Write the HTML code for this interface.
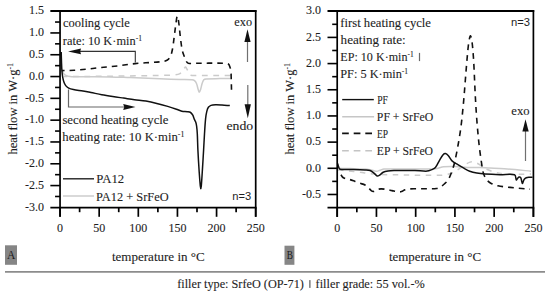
<!DOCTYPE html>
<html><head><meta charset="utf-8"><style>
html,body{margin:0;padding:0;background:#fff;width:550px;height:296px;overflow:hidden}
svg{display:block}
text{stroke:#1e1e1e;stroke-width:0.1px}
text[font-family*="Sans"]{stroke:none}

</style></head><body>
<svg width="550" height="296" viewBox="0 0 550 296">
<rect width="550" height="296" fill="#fff"/>
<path d="M61.40,69.50 C61.80,70.40 62.11,71.36 62.60,72.20 C63.04,72.96 63.56,73.72 64.20,74.30 C64.89,74.92 65.73,75.46 66.60,75.80 C67.67,76.22 68.85,76.46 70.00,76.60 C71.65,76.80 73.33,76.79 75.00,76.80 C86.67,76.89 98.34,76.73 110.00,76.90 C116.67,77.00 123.33,77.36 130.00,77.60 C140.00,77.96 150.00,78.32 160.00,78.70 C166.67,78.95 173.33,79.27 180.00,79.50 C184.00,79.64 188.03,79.50 192.00,79.80 C192.87,79.87 193.86,80.07 194.50,80.60 C195.36,81.31 196.05,82.43 196.50,83.50 C197.29,85.40 197.56,87.52 198.20,89.50 C198.50,90.42 198.91,92.20 199.30,92.20 C199.71,92.20 200.29,90.45 200.60,89.50 C201.26,87.45 201.52,85.25 202.20,83.20 C202.59,82.02 203.02,80.68 203.80,79.80 C204.29,79.24 205.22,78.96 206.00,78.90 C210.62,78.56 215.33,78.68 220.00,78.60 C223.47,78.54 226.93,78.53 230.40,78.50" fill="none" stroke="#cbcbcb" stroke-width="1.5" stroke-linejoin="round"/>
<path d="M230.50,75.50 C220.33,75.47 210.17,75.48 200.00,75.40 C196.83,75.38 193.24,76.01 190.50,75.20 C189.41,74.88 189.13,73.09 188.50,72.00 C187.90,70.95 187.41,69.84 186.80,68.80 C186.45,68.20 186.05,67.13 185.60,67.10 C185.12,67.07 184.48,68.05 184.00,68.60 C183.28,69.42 182.68,70.35 182.00,71.20 C181.35,72.01 180.88,73.14 180.00,73.60 C178.55,74.37 176.71,74.75 175.00,74.90 C170.04,75.35 165.00,75.29 160.00,75.40 C150.00,75.62 140.00,75.74 130.00,75.90 C123.33,76.01 116.67,76.12 110.00,76.20 C100.00,76.32 90.00,76.41 80.00,76.50 C74.67,76.55 69.33,76.57 64.00,76.60" fill="none" stroke="#cbcbcb" stroke-width="1.5" stroke-linejoin="round" stroke-dasharray="5.8,5.6"/>
<path d="M61.20,52.00 C61.30,55.33 61.37,58.67 61.50,62.00 C61.61,64.83 61.68,67.67 61.90,70.50 C62.08,72.74 62.32,74.99 62.70,77.20 C62.98,78.82 63.35,80.46 63.90,82.00 C64.35,83.26 64.89,84.57 65.70,85.60 C66.49,86.60 67.56,87.52 68.70,88.10 C70.13,88.82 71.80,89.18 73.40,89.50 C76.57,90.14 79.81,90.45 83.00,91.00 C85.64,91.45 88.27,91.98 90.90,92.50 C94.54,93.22 98.15,94.03 101.80,94.70 C105.42,95.36 109.06,95.93 112.70,96.50 C116.33,97.07 119.97,97.57 123.60,98.10 C127.23,98.63 130.86,99.21 134.50,99.70 C138.29,100.21 142.13,100.47 145.90,101.10 C149.56,101.71 153.19,102.52 156.80,103.40 C160.46,104.29 164.09,105.33 167.70,106.40 C170.62,107.26 173.51,108.22 176.40,109.20 C178.25,109.82 180.01,110.77 181.90,111.20 C183.65,111.60 185.52,111.43 187.30,111.70 C188.42,111.87 189.69,111.92 190.60,112.50 C191.53,113.09 192.25,114.20 192.80,115.20 C193.51,116.50 193.81,118.02 194.40,119.40 C194.78,120.29 195.40,121.09 195.70,122.00 C196.13,123.29 196.42,124.65 196.60,126.00 C196.95,128.58 197.16,131.19 197.30,133.80 C197.59,139.19 197.63,144.60 197.90,150.00 C198.26,157.34 198.71,164.67 199.20,172.00 C199.51,176.67 199.85,181.34 200.30,186.00 C200.39,186.91 200.63,188.70 200.80,188.70 C200.97,188.70 201.22,186.91 201.30,186.00 C201.76,180.68 202.06,175.33 202.40,170.00 C202.83,163.33 203.21,156.67 203.60,150.00 C203.91,144.60 204.16,139.20 204.50,133.80 C204.82,128.73 205.08,123.65 205.60,118.60 C205.85,116.18 206.22,113.75 206.80,111.40 C207.15,109.98 207.59,108.45 208.40,107.30 C208.99,106.45 210.02,105.75 211.00,105.40 C212.38,104.91 213.99,104.85 215.50,104.80 C217.66,104.72 219.84,104.88 222.00,105.00 C224.60,105.15 227.20,105.40 229.80,105.60" fill="none" stroke="#111" stroke-width="1.5" stroke-linejoin="round"/>
<path d="M231.50,89.80 C231.40,85.87 231.33,81.93 231.20,78.00 C231.13,75.67 231.16,73.31 230.90,71.00 C230.76,69.71 230.43,68.42 230.00,67.20 C229.63,66.15 229.28,64.87 228.50,64.20 C227.78,63.57 226.54,63.34 225.50,63.30 C217.04,63.00 208.50,63.22 200.00,63.20 C196.07,63.19 191.91,63.74 188.20,63.20 C187.31,63.07 186.68,61.99 186.20,61.20 C185.48,59.99 185.09,58.55 184.60,57.20 C183.79,54.95 182.80,52.73 182.30,50.40 C181.40,46.16 180.95,41.81 180.40,37.50 C179.78,32.68 179.49,27.81 178.80,23.00 C178.46,20.64 177.77,16.00 177.30,16.00 C176.83,16.00 176.35,20.65 176.00,23.00 C175.35,27.32 174.89,31.67 174.30,36.00 C173.69,40.50 173.27,45.05 172.40,49.50 C171.90,52.05 171.34,54.74 170.20,57.00 C169.54,58.31 168.27,59.49 167.00,60.20 C165.54,61.02 163.72,61.42 162.00,61.60 C153.05,62.55 143.98,62.73 135.00,63.60 C129.48,64.13 124.01,65.17 118.50,65.80 C111.25,66.63 103.96,67.24 96.70,68.00 C93.13,68.37 89.57,68.84 86.00,69.20 C82.00,69.60 78.01,70.07 74.00,70.30 C70.01,70.53 66.00,70.50 62.00,70.60" fill="none" stroke="#111" stroke-width="1.6" stroke-linejoin="round" stroke-dasharray="5.6,5.0"/>
<path d="M338.00,168.30 C342.00,168.40 346.00,168.48 350.00,168.60 C355.00,168.75 360.01,168.80 365.00,169.10 C366.68,169.20 368.35,169.49 370.00,169.80 C371.35,170.05 372.66,170.51 374.00,170.80 C374.99,171.01 376.02,171.40 377.00,171.30 C378.02,171.20 378.98,170.52 380.00,170.20 C381.32,169.79 382.63,169.18 384.00,169.10 C389.29,168.78 394.67,169.03 400.00,169.00 C406.67,168.96 413.33,168.96 420.00,168.90 C425.13,168.86 430.31,169.15 435.40,168.70 C438.21,168.45 440.89,167.09 443.70,166.80 C447.59,166.39 451.57,166.50 455.50,166.60 C459.44,166.70 463.36,167.24 467.30,167.40 C471.53,167.57 475.77,167.47 480.00,167.60 C483.34,167.70 486.67,167.97 490.00,168.10 C493.33,168.23 496.67,168.20 500.00,168.40 C505.01,168.70 510.00,169.15 515.00,169.60 C520.34,170.08 525.67,170.67 531.00,171.20" fill="none" stroke="#cbcbcb" stroke-width="1.5" stroke-linejoin="round"/>
<path d="M338.00,170.00 C340.33,170.20 342.67,170.37 345.00,170.60 C350.00,171.10 355.01,171.58 360.00,172.20 C363.34,172.61 366.65,173.32 370.00,173.70 C373.32,174.08 376.66,174.37 380.00,174.50 C386.66,174.77 393.33,174.78 400.00,174.90 C406.67,175.02 413.33,175.13 420.00,175.20 C426.67,175.27 433.34,175.45 440.00,175.30 C442.01,175.25 444.02,174.96 446.00,174.60 C448.02,174.23 450.14,173.94 452.00,173.10 C454.87,171.81 457.51,169.91 460.20,168.20 C462.18,166.94 464.01,165.44 466.00,164.20 C467.28,163.41 468.60,162.56 470.00,162.10 C470.93,161.79 472.03,161.75 473.00,161.90 C474.36,162.11 475.74,162.60 477.00,163.20 C478.74,164.03 480.33,165.20 482.00,166.20 C484.00,167.40 485.90,168.80 488.00,169.80 C490.24,170.87 492.60,171.81 495.00,172.40 C498.26,173.21 501.65,173.66 505.00,174.00 C508.31,174.33 511.67,174.40 515.00,174.40 C520.33,174.40 525.67,174.13 531.00,174.00" fill="none" stroke="#cbcbcb" stroke-width="1.5" stroke-linejoin="round" stroke-dasharray="5.5,5.5"/>
<path d="M337.60,163.40 C337.93,164.53 338.15,165.72 338.60,166.80 C338.95,167.65 339.17,169.01 340.00,169.20 C342.97,169.88 346.67,169.31 350.00,169.40 C355.00,169.54 360.01,169.63 365.00,169.90 C366.71,169.99 368.55,169.91 370.10,170.50 C371.65,171.08 372.96,172.36 374.30,173.40 C375.32,174.19 376.13,175.74 377.20,176.00 C378.03,176.20 379.15,175.34 380.00,174.80 C381.15,174.07 381.99,172.78 383.20,172.20 C384.65,171.51 386.37,171.24 388.00,171.00 C389.97,170.71 392.00,170.64 394.00,170.60 C401.00,170.47 408.00,170.39 415.00,170.50 C419.04,170.56 423.12,171.31 427.10,171.10 C428.72,171.01 430.29,170.24 431.80,169.60 C433.06,169.07 434.55,168.62 435.40,167.60 C437.12,165.52 438.06,162.69 439.50,160.30 C440.63,158.42 441.69,156.40 443.10,154.80 C443.66,154.17 444.67,153.46 445.40,153.60 C446.44,153.80 447.58,154.89 448.40,155.80 C449.78,157.32 450.51,159.50 452.00,160.90 C453.68,162.47 455.91,163.47 457.90,164.70 C459.84,165.90 461.80,167.10 463.80,168.20 C465.73,169.26 467.65,170.43 469.70,171.20 C471.98,172.06 474.40,172.64 476.80,173.10 C479.50,173.61 482.26,173.91 485.00,174.10 C489.99,174.44 495.00,174.60 500.00,174.70 C504.86,174.80 510.67,173.42 514.60,174.70 C516.10,175.19 515.57,179.17 516.30,180.00 C516.60,180.34 517.18,178.74 517.70,178.20 C518.14,177.74 518.66,177.09 519.20,177.00 C519.66,176.92 520.44,177.26 520.70,177.70 C521.27,178.66 521.36,180.03 521.70,181.20 C521.93,182.00 522.13,183.51 522.40,183.60 C522.63,183.68 522.93,182.33 523.20,181.70 C523.56,180.86 523.76,179.90 524.30,179.20 C524.79,178.56 525.56,178.03 526.30,177.70 C527.06,177.36 527.96,177.27 528.80,177.20 C530.02,177.10 531.27,177.20 532.50,177.20" fill="none" stroke="#111" stroke-width="1.5" stroke-linejoin="round"/>
<path d="M340.90,174.80 C341.60,175.70 342.13,176.82 343.00,177.50 C343.83,178.15 344.96,178.49 346.00,178.80 C347.30,179.19 348.70,179.22 350.00,179.60 C351.70,180.09 353.34,180.79 355.00,181.40 C356.67,182.02 358.32,182.70 360.00,183.30 C361.66,183.90 363.47,184.19 365.00,185.00 C366.30,185.69 367.39,186.81 368.50,187.80 C369.55,188.74 370.38,190.00 371.50,190.80 C372.05,191.20 372.86,191.54 373.50,191.40 C374.70,191.14 375.77,190.01 377.00,189.60 C378.27,189.18 379.66,188.93 381.00,188.90 C382.66,188.86 384.35,189.14 386.00,189.40 C388.01,189.71 390.00,190.20 392.00,190.60 C394.00,191.00 395.99,191.59 398.00,191.80 C399.15,191.92 400.40,191.91 401.50,191.60 C402.73,191.25 403.77,190.23 405.00,189.80 C406.37,189.33 407.85,189.00 409.30,188.90 C412.48,188.67 415.70,188.82 418.90,188.80 C422.60,188.78 426.30,188.86 430.00,188.80 C432.17,188.76 434.40,188.90 436.50,188.50 C437.90,188.23 439.25,187.52 440.50,186.80 C441.85,186.02 443.14,185.06 444.30,184.00 C445.78,182.66 447.46,181.34 448.40,179.60 C450.39,175.94 451.76,171.81 453.10,167.80 C454.13,164.71 454.80,161.49 455.50,158.30 C456.40,154.22 457.18,150.11 457.90,146.00 C458.95,140.01 459.99,134.02 460.80,128.00 C461.69,121.35 462.33,114.67 463.00,108.00 C463.53,102.67 463.96,97.34 464.40,92.00 C464.79,87.34 465.13,82.67 465.50,78.00 C465.93,72.67 466.33,67.33 466.80,62.00 C467.27,56.66 467.68,51.32 468.30,46.00 C468.61,43.32 469.04,40.63 469.60,38.00 C469.77,37.20 470.21,35.62 470.50,35.70 C470.85,35.79 471.32,37.53 471.50,38.50 C472.02,41.30 472.32,44.16 472.60,47.00 C473.02,51.32 473.33,55.66 473.60,60.00 C473.93,65.33 474.15,70.67 474.40,76.00 C474.68,82.00 474.88,88.00 475.20,94.00 C475.61,101.67 476.05,109.34 476.60,117.00 C477.08,123.71 477.67,130.41 478.30,137.10 C478.67,141.07 479.11,145.04 479.60,149.00 C480.08,152.91 480.62,156.81 481.20,160.70 C481.75,164.41 482.17,168.16 483.00,171.80 C483.41,173.59 484.13,175.33 484.90,177.00 C485.39,178.07 485.99,179.15 486.80,180.00 C487.96,181.22 489.31,182.42 490.80,183.20 C493.01,184.35 495.45,185.26 497.90,185.80 C501.85,186.66 505.96,186.97 510.00,187.40 C516.66,188.10 523.33,188.60 530.00,189.20" fill="none" stroke="#111" stroke-width="1.6" stroke-linejoin="round" stroke-dasharray="5.8,5.0"/>
<line x1="50.349999999999994" y1="11.0" x2="256.55" y2="11.0" stroke="#000" stroke-width="1.8"/>
<line x1="255.7" y1="10.2" x2="255.7" y2="216.79999999999998" stroke="#000" stroke-width="1.7"/>
<line x1="60.05" y1="10.2" x2="60.05" y2="216.79999999999998" stroke="#000" stroke-width="1.7"/>
<line x1="50.349999999999994" y1="207.6" x2="256.55" y2="207.6" stroke="#000" stroke-width="1.8"/>
<line x1="55.05" y1="22.04" x2="60.05" y2="22.04" stroke="#000" stroke-width="1.6"/>
<line x1="50.349999999999994" y1="32.94" x2="60.05" y2="32.94" stroke="#000" stroke-width="1.6"/>
<line x1="55.05" y1="43.84" x2="60.05" y2="43.84" stroke="#000" stroke-width="1.6"/>
<line x1="50.349999999999994" y1="54.74" x2="60.05" y2="54.74" stroke="#000" stroke-width="1.6"/>
<line x1="55.05" y1="65.65" x2="60.05" y2="65.65" stroke="#000" stroke-width="1.6"/>
<line x1="50.349999999999994" y1="76.55" x2="60.05" y2="76.55" stroke="#000" stroke-width="1.6"/>
<line x1="55.05" y1="87.45" x2="60.05" y2="87.45" stroke="#000" stroke-width="1.6"/>
<line x1="50.349999999999994" y1="98.35" x2="60.05" y2="98.35" stroke="#000" stroke-width="1.6"/>
<line x1="55.05" y1="109.26" x2="60.05" y2="109.26" stroke="#000" stroke-width="1.6"/>
<line x1="50.349999999999994" y1="120.16" x2="60.05" y2="120.16" stroke="#000" stroke-width="1.6"/>
<line x1="55.05" y1="131.06" x2="60.05" y2="131.06" stroke="#000" stroke-width="1.6"/>
<line x1="50.349999999999994" y1="141.96" x2="60.05" y2="141.96" stroke="#000" stroke-width="1.6"/>
<line x1="55.05" y1="152.87" x2="60.05" y2="152.87" stroke="#000" stroke-width="1.6"/>
<line x1="50.349999999999994" y1="163.77" x2="60.05" y2="163.77" stroke="#000" stroke-width="1.6"/>
<line x1="55.05" y1="174.67" x2="60.05" y2="174.67" stroke="#000" stroke-width="1.6"/>
<line x1="50.349999999999994" y1="185.57" x2="60.05" y2="185.57" stroke="#000" stroke-width="1.6"/>
<line x1="55.05" y1="196.48" x2="60.05" y2="196.48" stroke="#000" stroke-width="1.6"/>
<line x1="60.05" y1="207.6" x2="60.05" y2="216.79999999999998" stroke="#000" stroke-width="1.7"/>
<line x1="79.61" y1="207.6" x2="79.61" y2="212.2" stroke="#000" stroke-width="1.7"/>
<line x1="99.18" y1="207.6" x2="99.18" y2="216.79999999999998" stroke="#000" stroke-width="1.7"/>
<line x1="118.74" y1="207.6" x2="118.74" y2="212.2" stroke="#000" stroke-width="1.7"/>
<line x1="138.31" y1="207.6" x2="138.31" y2="216.79999999999998" stroke="#000" stroke-width="1.7"/>
<line x1="157.88" y1="207.6" x2="157.88" y2="212.2" stroke="#000" stroke-width="1.7"/>
<line x1="177.44" y1="207.6" x2="177.44" y2="216.79999999999998" stroke="#000" stroke-width="1.7"/>
<line x1="197.00" y1="207.6" x2="197.00" y2="212.2" stroke="#000" stroke-width="1.7"/>
<line x1="216.57" y1="207.6" x2="216.57" y2="216.79999999999998" stroke="#000" stroke-width="1.7"/>
<line x1="236.13" y1="207.6" x2="236.13" y2="212.2" stroke="#000" stroke-width="1.7"/>
<line x1="255.70" y1="207.6" x2="255.70" y2="216.79999999999998" stroke="#000" stroke-width="1.7"/>
<text x="60.05" y="232" font-size="12" font-family='"Liberation Serif", serif' text-anchor="middle" fill="#1e1e1e">0</text>
<text x="99.18" y="232" font-size="12" font-family='"Liberation Serif", serif' text-anchor="middle" fill="#1e1e1e">50</text>
<text x="138.31" y="232" font-size="12" font-family='"Liberation Serif", serif' text-anchor="middle" fill="#1e1e1e">100</text>
<text x="177.44" y="232" font-size="12" font-family='"Liberation Serif", serif' text-anchor="middle" fill="#1e1e1e">150</text>
<text x="216.57" y="232" font-size="12" font-family='"Liberation Serif", serif' text-anchor="middle" fill="#1e1e1e">200</text>
<text x="255.70" y="232" font-size="12" font-family='"Liberation Serif", serif' text-anchor="middle" fill="#1e1e1e">250</text>
<text x="44.0" y="14.34" font-size="12" font-family='"Liberation Serif", serif' text-anchor="end" fill="#1e1e1e">1.5</text>
<text x="44.0" y="36.14" font-size="12" font-family='"Liberation Serif", serif' text-anchor="end" fill="#1e1e1e">1.0</text>
<text x="44.0" y="57.95" font-size="12" font-family='"Liberation Serif", serif' text-anchor="end" fill="#1e1e1e">0.5</text>
<text x="44.0" y="79.75" font-size="12" font-family='"Liberation Serif", serif' text-anchor="end" fill="#1e1e1e">0.0</text>
<text x="44.0" y="101.55" font-size="12" font-family='"Liberation Serif", serif' text-anchor="end" fill="#1e1e1e">-0.5</text>
<text x="44.0" y="123.36" font-size="12" font-family='"Liberation Serif", serif' text-anchor="end" fill="#1e1e1e">-1.0</text>
<text x="44.0" y="145.16" font-size="12" font-family='"Liberation Serif", serif' text-anchor="end" fill="#1e1e1e">-1.5</text>
<text x="44.0" y="166.97" font-size="12" font-family='"Liberation Serif", serif' text-anchor="end" fill="#1e1e1e">-2.0</text>
<text x="44.0" y="188.77" font-size="12" font-family='"Liberation Serif", serif' text-anchor="end" fill="#1e1e1e">-2.5</text>
<text x="44.0" y="210.58" font-size="12" font-family='"Liberation Serif", serif' text-anchor="end" fill="#1e1e1e">-3.0</text>
<line x1="327.5" y1="11.0" x2="534.25" y2="11.0" stroke="#000" stroke-width="1.8"/>
<line x1="533.4" y1="10.2" x2="533.4" y2="216.89999999999998" stroke="#000" stroke-width="1.7"/>
<line x1="337.2" y1="10.2" x2="337.2" y2="216.89999999999998" stroke="#000" stroke-width="1.7"/>
<line x1="327.5" y1="207.7" x2="534.25" y2="207.7" stroke="#000" stroke-width="1.8"/>
<line x1="332.2" y1="24.31" x2="337.2" y2="24.31" stroke="#000" stroke-width="1.6"/>
<line x1="327.5" y1="37.40" x2="337.2" y2="37.40" stroke="#000" stroke-width="1.6"/>
<line x1="332.2" y1="50.49" x2="337.2" y2="50.49" stroke="#000" stroke-width="1.6"/>
<line x1="327.5" y1="63.58" x2="337.2" y2="63.58" stroke="#000" stroke-width="1.6"/>
<line x1="332.2" y1="76.67" x2="337.2" y2="76.67" stroke="#000" stroke-width="1.6"/>
<line x1="327.5" y1="89.76" x2="337.2" y2="89.76" stroke="#000" stroke-width="1.6"/>
<line x1="332.2" y1="102.85" x2="337.2" y2="102.85" stroke="#000" stroke-width="1.6"/>
<line x1="327.5" y1="115.94" x2="337.2" y2="115.94" stroke="#000" stroke-width="1.6"/>
<line x1="332.2" y1="129.03" x2="337.2" y2="129.03" stroke="#000" stroke-width="1.6"/>
<line x1="327.5" y1="142.12" x2="337.2" y2="142.12" stroke="#000" stroke-width="1.6"/>
<line x1="332.2" y1="155.21" x2="337.2" y2="155.21" stroke="#000" stroke-width="1.6"/>
<line x1="327.5" y1="168.30" x2="337.2" y2="168.30" stroke="#000" stroke-width="1.6"/>
<line x1="332.2" y1="181.39" x2="337.2" y2="181.39" stroke="#000" stroke-width="1.6"/>
<line x1="327.5" y1="194.48" x2="337.2" y2="194.48" stroke="#000" stroke-width="1.6"/>
<line x1="337.20" y1="207.7" x2="337.20" y2="216.89999999999998" stroke="#000" stroke-width="1.7"/>
<line x1="356.82" y1="207.7" x2="356.82" y2="212.29999999999998" stroke="#000" stroke-width="1.7"/>
<line x1="376.44" y1="207.7" x2="376.44" y2="216.89999999999998" stroke="#000" stroke-width="1.7"/>
<line x1="396.06" y1="207.7" x2="396.06" y2="212.29999999999998" stroke="#000" stroke-width="1.7"/>
<line x1="415.68" y1="207.7" x2="415.68" y2="216.89999999999998" stroke="#000" stroke-width="1.7"/>
<line x1="435.30" y1="207.7" x2="435.30" y2="212.29999999999998" stroke="#000" stroke-width="1.7"/>
<line x1="454.92" y1="207.7" x2="454.92" y2="216.89999999999998" stroke="#000" stroke-width="1.7"/>
<line x1="474.54" y1="207.7" x2="474.54" y2="212.29999999999998" stroke="#000" stroke-width="1.7"/>
<line x1="494.16" y1="207.7" x2="494.16" y2="216.89999999999998" stroke="#000" stroke-width="1.7"/>
<line x1="513.78" y1="207.7" x2="513.78" y2="212.29999999999998" stroke="#000" stroke-width="1.7"/>
<line x1="533.40" y1="207.7" x2="533.40" y2="216.89999999999998" stroke="#000" stroke-width="1.7"/>
<text x="337.20" y="232" font-size="12" font-family='"Liberation Serif", serif' text-anchor="middle" fill="#1e1e1e">0</text>
<text x="376.44" y="232" font-size="12" font-family='"Liberation Serif", serif' text-anchor="middle" fill="#1e1e1e">50</text>
<text x="415.68" y="232" font-size="12" font-family='"Liberation Serif", serif' text-anchor="middle" fill="#1e1e1e">100</text>
<text x="454.92" y="232" font-size="12" font-family='"Liberation Serif", serif' text-anchor="middle" fill="#1e1e1e">150</text>
<text x="494.16" y="232" font-size="12" font-family='"Liberation Serif", serif' text-anchor="middle" fill="#1e1e1e">200</text>
<text x="533.40" y="232" font-size="12" font-family='"Liberation Serif", serif' text-anchor="middle" fill="#1e1e1e">250</text>
<text x="321.0" y="14.42" font-size="12" font-family='"Liberation Serif", serif' text-anchor="end" fill="#1e1e1e">3.0</text>
<text x="321.0" y="40.60" font-size="12" font-family='"Liberation Serif", serif' text-anchor="end" fill="#1e1e1e">2.5</text>
<text x="321.0" y="66.78" font-size="12" font-family='"Liberation Serif", serif' text-anchor="end" fill="#1e1e1e">2.0</text>
<text x="321.0" y="92.96" font-size="12" font-family='"Liberation Serif", serif' text-anchor="end" fill="#1e1e1e">1.5</text>
<text x="321.0" y="119.14" font-size="12" font-family='"Liberation Serif", serif' text-anchor="end" fill="#1e1e1e">1.0</text>
<text x="321.0" y="145.32" font-size="12" font-family='"Liberation Serif", serif' text-anchor="end" fill="#1e1e1e">0.5</text>
<text x="321.0" y="171.50" font-size="12" font-family='"Liberation Serif", serif' text-anchor="end" fill="#1e1e1e">0.0</text>
<text x="321.0" y="197.68" font-size="12" font-family='"Liberation Serif", serif' text-anchor="end" fill="#1e1e1e">-0.5</text>
<polyline points="135.3,62.6 135.3,51.4 79,51.4" fill="none" stroke="#333" stroke-width="1.1"/>
<path d="M68,51.4 L81,48.6 L80.2,51.4 L81,54.3 Z" fill="#111"/>
<polyline points="68.5,89.6 68.5,107.0 124,107.0" fill="none" stroke="#666" stroke-width="1.2"/>
<path d="M135.5,107.0 L123.2,104.1 L124.2,107.0 L123.2,109.9 Z" fill="#111"/>
<line x1="247.5" y1="41" x2="247.5" y2="62" stroke="#707070" stroke-width="1.2"/>
<path d="M247.5,29.2 L244.4,42.0 L250.6,42.0 Z" fill="#111"/>
<line x1="247.8" y1="85" x2="247.8" y2="105" stroke="#707070" stroke-width="1.2"/>
<path d="M247.8,118.2 L244.6,104.2 L250.9,104.2 Z" fill="#111"/>
<line x1="525.5" y1="131" x2="525.5" y2="161" stroke="#707070" stroke-width="1.2"/>
<path d="M525.5,119.3 L522.4,131.6 L528.7,131.6 Z" fill="#111"/>
<line x1="63" y1="178.8" x2="94" y2="178.8" stroke="#222" stroke-width="1.4"/>
<line x1="63" y1="196" x2="94" y2="196" stroke="#d0d0d0" stroke-width="1.6"/>
<line x1="342.2" y1="99.6" x2="373.8" y2="99.6" stroke="#111" stroke-width="1.4"/>
<line x1="342.2" y1="116.8" x2="374.1" y2="116.8" stroke="#c6c6c6" stroke-width="1.5"/>
<line x1="342.1" y1="133.4" x2="372.2" y2="133.4" stroke="#111" stroke-width="1.6" stroke-dasharray="6.7,4.9"/>
<line x1="342.1" y1="150.7" x2="372.2" y2="150.7" stroke="#c4c4c4" stroke-width="1.5" stroke-dasharray="6.7,4.9"/>
<text x="62.98" y="26.6" font-size="12" font-family='"Liberation Serif", serif' text-anchor="start" fill="#1e1e1e" textLength="66.75" lengthAdjust="spacingAndGlyphs">cooling cycle</text>
<text x="62.87" y="44.8" font-size="12" font-family='"Liberation Serif", serif' text-anchor="start" fill="#1e1e1e" textLength="79.16" lengthAdjust="spacingAndGlyphs">rate: 10 K·min<tspan font-size="7.4" dy="-4.3">-1</tspan></text>
<text x="62.4" y="124.0" font-size="12" font-family='"Liberation Serif", serif' text-anchor="start" fill="#1e1e1e" textLength="106.11" lengthAdjust="spacingAndGlyphs">second heating cycle</text>
<text x="62.35" y="141.0" font-size="12" font-family='"Liberation Serif", serif' text-anchor="start" fill="#1e1e1e" textLength="122.04" lengthAdjust="spacingAndGlyphs">heating rate: 10 K·min<tspan font-size="7.4" dy="-4.3">-1</tspan></text>
<text x="234.37" y="25.7" font-size="12" font-family='"Liberation Serif", serif' text-anchor="start" fill="#1e1e1e" textLength="17.63" lengthAdjust="spacingAndGlyphs">exo</text>
<text x="226.5" y="130.0" font-size="12" font-family='"Liberation Serif", serif' text-anchor="start" fill="#1e1e1e" textLength="26.71" lengthAdjust="spacingAndGlyphs">endo</text>
<text x="96.31" y="183.4" font-size="11.5" font-family='"Liberation Serif", serif' text-anchor="start" fill="#1e1e1e" textLength="27.87" lengthAdjust="spacingAndGlyphs">PA12</text>
<text x="96.13" y="200.7" font-size="11.5" font-family='"Liberation Serif", serif' text-anchor="start" fill="#1e1e1e" textLength="72.48" lengthAdjust="spacingAndGlyphs">PA12 + SrFeO</text>
<text x="232.36" y="199.9" font-size="11" font-family='"Liberation Sans", sans-serif' text-anchor="start" fill="#1e1e1e" textLength="18.94" lengthAdjust="spacingAndGlyphs">n=3</text>
<text x="111.93" y="260.8" font-size="12" font-family='"Liberation Serif", serif' text-anchor="start" fill="#1e1e1e" textLength="92.78" lengthAdjust="spacingAndGlyphs">temperature in °C</text>
<text x="340.25" y="26.7" font-size="12" font-family='"Liberation Serif", serif' text-anchor="start" fill="#1e1e1e" textLength="90.75" lengthAdjust="spacingAndGlyphs">first heating cycle</text>
<text x="340.64" y="44.2" font-size="12" font-family='"Liberation Serif", serif' text-anchor="start" fill="#1e1e1e" textLength="65.03" lengthAdjust="spacingAndGlyphs">heating rate:</text>
<text x="340.37" y="61.1" font-size="12" font-family='"Liberation Serif", serif' text-anchor="start" fill="#1e1e1e" textLength="73.29" lengthAdjust="spacingAndGlyphs">EP: 10 K·min<tspan font-size="7.4" dy="-4.3">-1</tspan></text>
<text x="340.24" y="78.2" font-size="12" font-family='"Liberation Serif", serif' text-anchor="start" fill="#1e1e1e" textLength="67.93" lengthAdjust="spacingAndGlyphs">PF: 5 K·min<tspan font-size="7.4" dy="-4.3">-1</tspan></text>
<text x="377.18" y="103.8" font-size="11.5" font-family='"Liberation Serif", serif' text-anchor="start" fill="#1e1e1e" textLength="10.77" lengthAdjust="spacingAndGlyphs">PF</text>
<text x="376.85" y="121.0" font-size="11.5" font-family='"Liberation Serif", serif' text-anchor="start" fill="#1e1e1e" textLength="56.31" lengthAdjust="spacingAndGlyphs">PF + SrFeO</text>
<text x="377.02" y="137.8" font-size="11.5" font-family='"Liberation Serif", serif' text-anchor="start" fill="#1e1e1e" textLength="11.06" lengthAdjust="spacingAndGlyphs">EP</text>
<text x="376.87" y="155.2" font-size="11.5" font-family='"Liberation Serif", serif' text-anchor="start" fill="#1e1e1e" textLength="56.15" lengthAdjust="spacingAndGlyphs">EP + SrFeO</text>
<text x="511.32" y="114.6" font-size="12" font-family='"Liberation Serif", serif' text-anchor="start" fill="#1e1e1e" textLength="18.15" lengthAdjust="spacingAndGlyphs">exo</text>
<text x="511.1" y="26.2" font-size="11" font-family='"Liberation Sans", sans-serif' text-anchor="start" fill="#1e1e1e" textLength="19.0" lengthAdjust="spacingAndGlyphs">n=3</text>
<text x="388.93" y="260.7" font-size="12" font-family='"Liberation Serif", serif' text-anchor="start" fill="#1e1e1e" textLength="92.11" lengthAdjust="spacingAndGlyphs">temperature in °C</text>
<text x="177.22" y="288.3" font-size="12" font-family='"Liberation Serif", serif' text-anchor="start" fill="#1e1e1e" textLength="126.69" lengthAdjust="spacingAndGlyphs">filler type: SrfeO (OP-71)</text>
<text x="315.64" y="288.3" font-size="12" font-family='"Liberation Serif", serif' text-anchor="start" fill="#1e1e1e" textLength="109.11" lengthAdjust="spacingAndGlyphs">filler grade: 55 vol.-%</text>
<text transform="translate(17.2,108.8) rotate(-90)" x="0" y="0" font-size="12" font-family='"Liberation Serif", serif' text-anchor="middle" fill="#1e1e1e" textLength="91.5" lengthAdjust="spacingAndGlyphs">heat flow in W·g<tspan font-size="7.4" dy="-4.2">-1</tspan></text>
<text transform="translate(294.2,108.8) rotate(-90)" x="0" y="0" font-size="12" font-family='"Liberation Serif", serif' text-anchor="middle" fill="#1e1e1e" textLength="91.5" lengthAdjust="spacingAndGlyphs">heat flow in W·g<tspan font-size="7.4" dy="-4.2">-1</tspan></text>
<rect x="5" y="245.3" width="12" height="19.5" fill="#858585"/>
<text x="11.2" y="259.4" font-size="11.5" font-family='"Liberation Serif", serif' text-anchor="middle" fill="#1a1a1a" style="stroke:none">A</text>
<rect x="284.5" y="245.7" width="9.9" height="19.1" fill="#868686"/>
<text x="286.8" y="259.3" font-size="11.5" font-family='"Liberation Serif", serif' text-anchor="start" fill="#1a1a1a" textLength="6.2" lengthAdjust="spacingAndGlyphs" style="stroke:none">B</text>
<line x1="5" y1="271.9" x2="545" y2="271.9" stroke="#8c8c8c" stroke-width="1.6"/>
<rect x="309.1" y="280.1" width="1.5" height="7.8" fill="#7a7a7a"/>
<rect x="418.9" y="52.9" width="1.2" height="8.2" fill="#6a6a6a"/>
</svg>
</body></html>
